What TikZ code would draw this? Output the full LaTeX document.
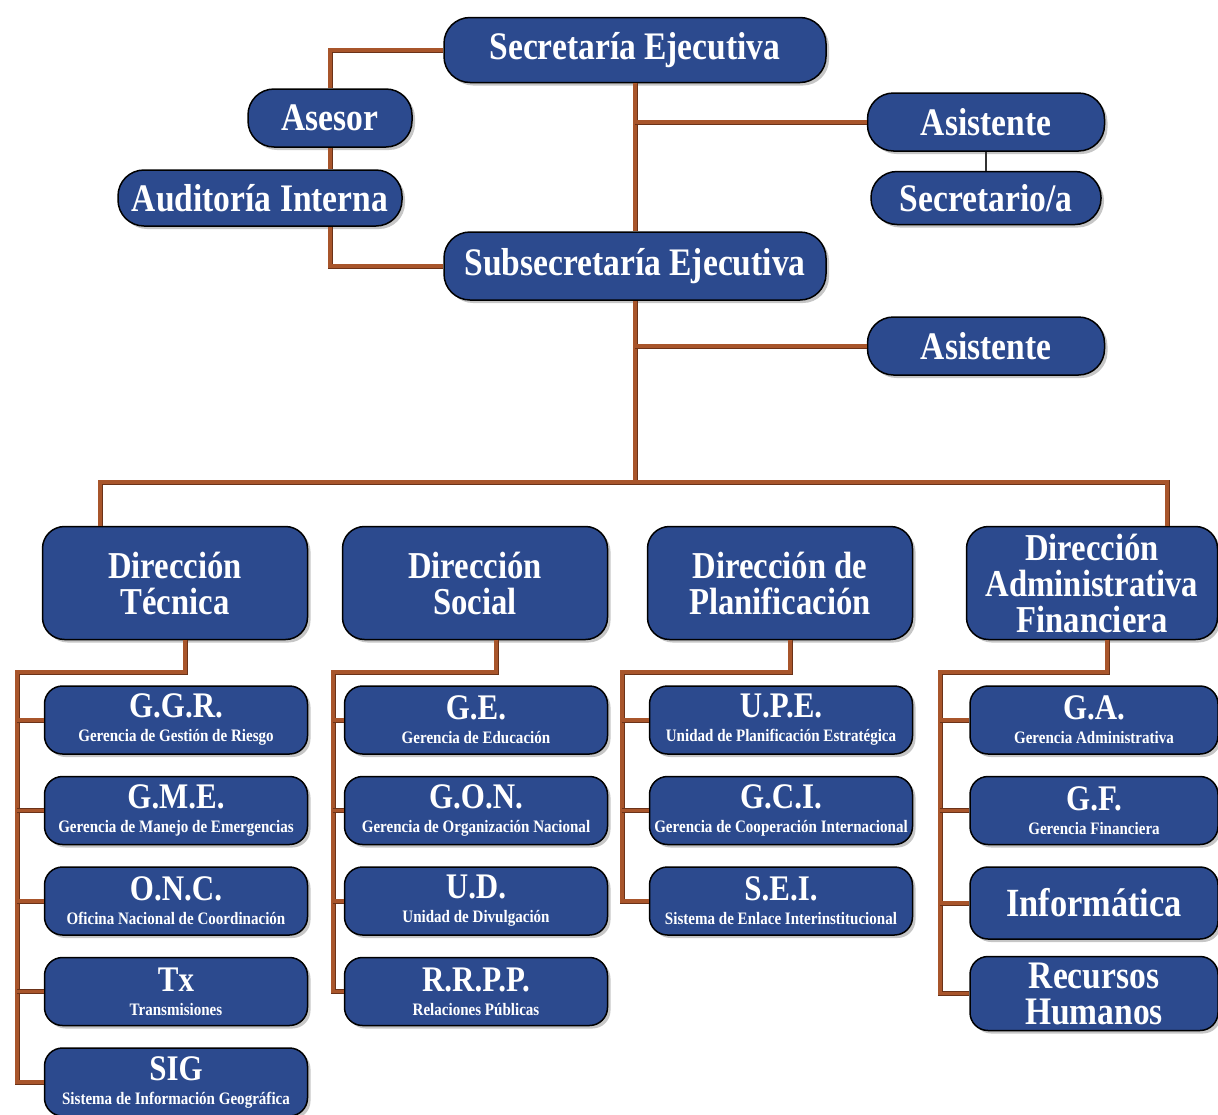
\documentclass[tikz,border=0pt]{standalone}
\usepackage{fontspec}
\setmainfont{Liberation Serif}[FakeStretch=0.86]
\usetikzlibrary{positioning,shadows}
\definecolor{boxblue}{HTML}{2C4A8E}
\definecolor{linkbrown}{HTML}{A8552B}
\definecolor{linkdark}{HTML}{6B3218}
\newcommand{\subtxt}{\fontsize{17.5}{17.5}\selectfont}
\tikzset{
  org box/.style={
    fill=boxblue,
    draw=black,
    line width=1.5pt,
    text=white,
    inner sep=0pt,
    align=center,
    drop shadow={shadow xshift=3pt, shadow yshift=-3pt, opacity=.45},
    font=\bfseries\fontsize{39}{40}\selectfont,
  },
  pill box/.style={
    org box,
    rounded corners=26pt,
    minimum width={#1},
    minimum height=58pt,
  },
  head box/.style={
    org box,
    rounded corners=22pt,
    minimum width=265pt,
    minimum height=113pt,
    font=\bfseries\fontsize{38}{36}\selectfont,
  },
  unit box/.style={
    org box,
    rounded corners=18pt,
    minimum width=263pt,
    minimum height=68pt,
    font=\bfseries\fontsize{36}{34}\selectfont,
  },
  link/.style={
    draw=linkbrown,
    line width=3.5pt,
    preaction={draw=linkdark, line width=5pt},
  }
}

\begin{document}
\begin{tikzpicture}[x=1pt, y=-1pt, node distance=21pt]
        \useasboundingbox (0,0) rectangle (1218,1114);

        % top of the chart
        \node [pill box=382pt, minimum height=65pt] (se) at (635,50) {Secretaría Ejecutiva};
        \node [pill box=164pt] (ase) at (330,118) {Asesor};
        \node [pill box=284pt, minimum height=56pt] (aud) at (260,198) {Auditoría Interna};
        \node [pill box=382pt, minimum height=68pt] (sub) at (635,266) {Subsecretaría Ejecutiva};
        \node [pill box=237pt] (asis1) at (986,122) {Asistente};
        \node [pill box=230pt, minimum height=53pt] (secr) at (986,198) {Secretario/a};
        \node [pill box=237pt] (asis2) at (986,346) {Asistente};

        % directions
        \node [head box] (dt) at (175,583) {Dirección\\Técnica};
        \node [head box] (ds) at (475,583) {Dirección\\Social};
        \node [head box] (dp) at (780,583) {Dirección de\\Planificación};
        \node [head box, minimum width=251pt] (da) at (1092,583) {Dirección\\Administrativa\\Financiera};

        % units
        \node [unit box] (t1) at (176,720) {G.G.R.\\[-10pt]{\subtxt Gerencia de Gestión de Riesgo}};
        \node [unit box, below=of t1] (t2) {G.M.E.\\[-10pt]{\subtxt Gerencia de Manejo de Emergencias}};
        \node [unit box, below=of t2] (t3) {O.N.C.\\[-10pt]{\subtxt Oficina Nacional de Coordinación}};
        \node [unit box, below=of t3] (t4) {Tx\\[-10pt]{\subtxt Transmisiones}};
        \node [unit box, below=of t4] (t5) {SIG\\[-10pt]{\subtxt Sistema de Información Geográfica}};

        \node [unit box] (s1) at (476,720) {G.E.\\[-10pt]{\subtxt Gerencia de Educación}};
        \node [unit box, below=of s1] (s2) {G.O.N.\\[-10pt]{\subtxt Gerencia de Organización Nacional}};
        \node [unit box, below=of s2] (s3) {U.D.\\[-10pt]{\subtxt Unidad de Divulgación}};
        \node [unit box, below=of s3] (s4) {R.R.P.P.\\[-10pt]{\subtxt Relaciones Públicas}};

        \node [unit box] (p1) at (781,720) {U.P.E.\\[-10pt]{\subtxt Unidad de Planificación Estratégica}};
        \node [unit box, below=of p1] (p2) {G.C.I.\\[-10pt]{\subtxt Gerencia de Cooperación Internacional}};
        \node [unit box, below=of p2] (p3) {S.E.I.\\[-10pt]{\subtxt Sistema de Enlace Interinstitucional}};

        \node [unit box, minimum width=248pt] (a1) at (1094,720) {G.A.\\[-10pt]{\subtxt Gerencia Administrativa}};
        \node [unit box, minimum width=248pt, below=of a1] (a2) {G.F.\\[-10pt]{\subtxt Gerencia Financiera}};
        \node [unit box, minimum width=248pt, minimum height=72pt, below=of a2, font=\bfseries\fontsize{40}{34}\selectfont] (a3) {Informática};
        \node [unit box, minimum width=248pt, minimum height=74pt, below=16pt of a3, font=\bfseries\fontsize{39}{36}\selectfont] (a4) {Recursos\\Humanos};

        % connectors
        \coordinate (bus) at (635,482);
        \coordinate (tc) at (17,672);
        \coordinate (sc) at (333,672);
        \coordinate (pc) at (622,672);
        \coordinate (ac) at (940,672);

        \draw [link] (se.west) -| (ase.north);
        \draw [link] (ase.south) -- (ase.south |- aud.north);
        \draw [link] (aud.south -| ase.south) |- (sub.west);
        \draw [link] (se.south) -- (sub.north);
        \draw [link] (se.south |- asis1) -- (asis1.west);
        \draw [line width=1.5pt, draw=black!80] (asis1.south) -- (secr.north);
        \draw [link] (sub.south) -- (bus);
        \draw [link] (sub.south |- asis2) -- (asis2.west);
        \draw [link] ([xshift=-75pt]dt.north) |- (bus) -| ([xshift=75pt]da.north);

        \draw [link] ([xshift=10pt]dt.south) |- (tc) |- (t5.west);
        \draw [link] (tc |- t1) -- (t1.west);
        \draw [link] (tc |- t2) -- (t2.west);
        \draw [link] (tc |- t3) -- (t3.west);
        \draw [link] (tc |- t4) -- (t4.west);

        \draw [link] ([xshift=21pt]ds.south) |- (sc) |- (s4.west);
        \draw [link] (sc |- s1) -- (s1.west);
        \draw [link] (sc |- s2) -- (s2.west);
        \draw [link] (sc |- s3) -- (s3.west);

        \draw [link] ([xshift=10pt]dp.south) |- (pc) |- (p3.west);
        \draw [link] (pc |- p1) -- (p1.west);
        \draw [link] (pc |- p2) -- (p2.west);

        \draw [link] ([xshift=15pt]da.south) |- (ac) |- (a4.west);
        \draw [link] (ac |- a1) -- (a1.west);
        \draw [link] (ac |- a2) -- (a2.west);
        \draw [link] (ac |- a3) -- (a3.west);
      \end{tikzpicture}
\end{document}
